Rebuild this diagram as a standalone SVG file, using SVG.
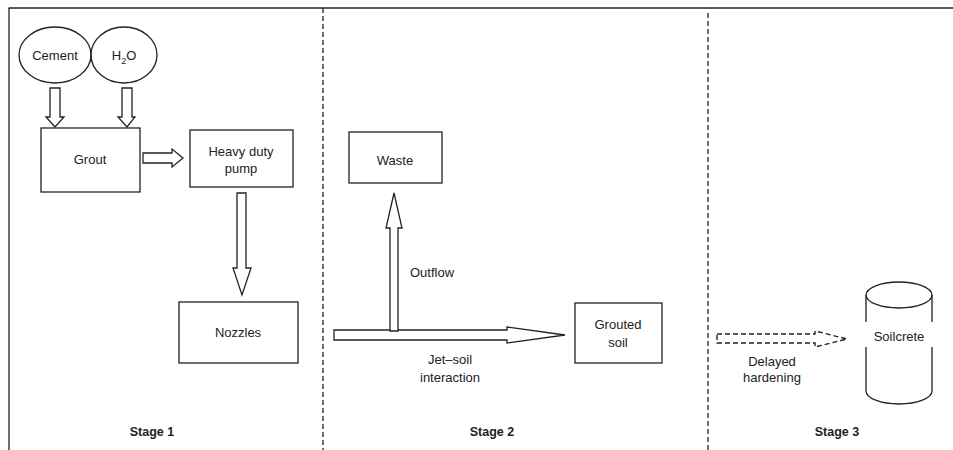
<svg xmlns="http://www.w3.org/2000/svg" width="953" height="450" viewBox="0 0 953 450">
<style>
.s{fill:none;stroke:#222;stroke-width:1.3}
.b{fill:#fff;stroke:#222;stroke-width:1.3}
.d{fill:none;stroke:#222;stroke-width:1.3;stroke-dasharray:5,3}
.da{fill:#fff;stroke:#222;stroke-width:1.4;stroke-dasharray:5,3}
text{font-family:"Liberation Sans",Arial,sans-serif;font-size:13px;fill:#222;text-anchor:middle}
.st{font-weight:bold;font-size:12.5px}
</style>
<rect width="953" height="450" fill="#fff"/>
<g id="frame">
<line class="s" x1="8.5" y1="8" x2="953" y2="8"/>
<line class="s" x1="9" y1="8" x2="9" y2="450"/>
<line class="d" x1="323" y1="8" x2="323" y2="450"/>
<line class="d" x1="708" y1="13" x2="708" y2="450"/>
</g>
<g id="connectors">
<polygon class="b" points="50,88 60,88 60,117 64,117 55,127 46,117 50,117"/>
<polygon class="b" points="122,88 132,88 132,117 135,117 127,127 118,117 122,117"/>
<polygon class="b" points="143,153 172,153 172,149 183,158 172,167 172,163 143,163"/>
<polygon class="b" points="237,193 246,193 246,268 251,268 242,295 233,268 237,268"/>
<polygon class="b" points="334,330 507,330 507,327 565,335 507,343 507,340 334,340"/>
<polygon class="b" points="390,331 390,228 386,228 394,193 402,228 398,228 398,331"/>
<polygon class="da" points="717,334 815,334 815,331 847,339 815,347 815,343 717,343"/>
<text x="432" y="277">Outflow</text>
<text x="450" y="364">Jet–soil</text>
<text x="450" y="382">interaction</text>
<text x="772" y="366">Delayed</text>
<text x="772" y="382">hardening</text>
</g>
<g id="cement">
<ellipse class="s" cx="55" cy="55" rx="36" ry="28"/>
<text x="55" y="60">Cement</text>
</g>
<g id="h2o">
<ellipse class="s" cx="124" cy="55" rx="33" ry="28"/>
<text x="124" y="60">H<tspan font-size="9" dy="4">2</tspan><tspan dy="-4">O</tspan></text>
</g>
<g id="grout">
<rect class="s" x="41" y="128" width="99" height="64"/>
<text x="90" y="164">Grout</text>
</g>
<g id="pump">
<rect class="s" x="190" y="130" width="103" height="57"/>
<text x="241" y="156">Heavy duty</text>
<text x="241" y="173">pump</text>
</g>
<g id="nozzles">
<rect class="s" x="179" y="302" width="119" height="61"/>
<text x="238" y="337">Nozzles</text>
</g>
<g id="waste">
<rect class="s" x="349" y="132" width="93" height="51"/>
<text x="395" y="165">Waste</text>
</g>
<g id="grouted">
<rect class="s" x="575" y="303" width="87" height="60"/>
<text x="618" y="329">Grouted</text>
<text x="618" y="347">soil</text>
</g>
<g id="soilcrete">
<ellipse class="s" cx="899" cy="295" rx="33" ry="13"/>
<path class="s" d="M866,295 V322 M866,347 V391 A33,13 0 0 0 932,391 V347 M932,322 V295"/>
<text x="899" y="341">Soilcrete</text>
</g>
<g id="stages">
<text class="st" x="152" y="436">Stage 1</text>
<text class="st" x="492" y="436">Stage 2</text>
<text class="st" x="837" y="436">Stage 3</text>
</g>
</svg>
